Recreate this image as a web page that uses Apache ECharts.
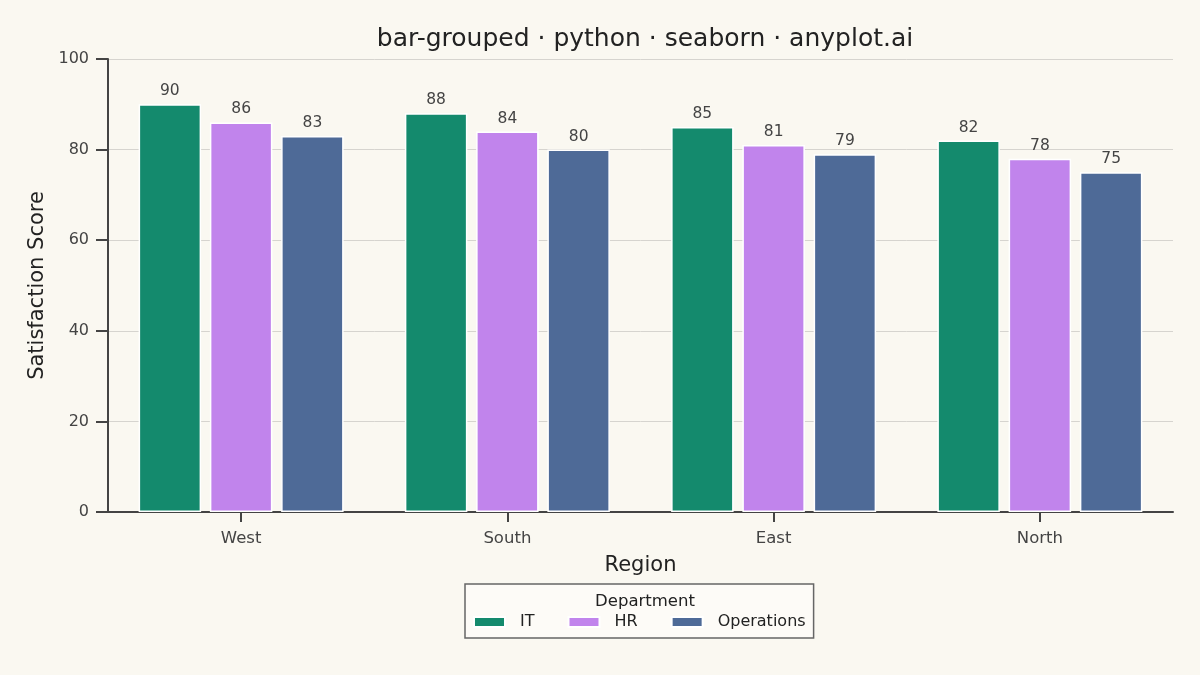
<!DOCTYPE html>
<html>
<head>
<meta charset="utf-8">
<script src="https://cdn.jsdelivr.net/npm/echarts@6/dist/echarts.min.js"></script>
<style>
  html, body { margin: 0; padding: 0; background: #FAF8F1; }
  #chart { width: 1200px; height: 675px; }
</style>
</head>
<body>
<div id="chart"></div>
<script>
// data
var regions = ['West', 'South', 'East', 'North']
var itScores = [90, 88, 85, 82]
var hrScores = [86, 84, 81, 78]
var opsScores = [83, 80, 79, 75]
var yTicks = [0, 20, 40, 60, 80, 100]

var font = 'DejaVu Sans'
var ink = '#444444'

function barSeries(name, data, color) {
  return {
    name: name,
    type: 'bar',
    data: data,
    itemStyle: { color: color, borderColor: '#ffffff', borderWidth: 1.5 },
    label: {
      show: true,
      position: 'top',
      distance: 5,
      color: ink,
      fontFamily: font,
      fontSize: 15.5
    }
  }
}

var myChart = echarts.init(document.getElementById('chart'))

var option = {
  backgroundColor: '#FAF8F1',
  animation: false,
  textStyle: { fontFamily: font },
  title: [
    {
      // centred over the plot area, not the page
      text: 'bar-grouped · python · seaborn · anyplot.ai',
      left: 640,
      textAlign: 'center',
      top: 22,
      textStyle: { fontFamily: font, fontSize: 25, fontWeight: 'normal', color: '#222222' }
    },
    {
      text: 'Department',
      left: 640,
      textAlign: 'center',
      top: 588,
      textStyle: { fontFamily: font, fontSize: 16.5, fontWeight: 'normal', color: '#222222' }
    }
  ],
  legend: {
    data: ['IT', 'HR', 'Operations'],
    left: 465,
    top: 584,
    orient: 'horizontal',
    padding: [30, 8, 8, 8],
    itemWidth: 31,
    itemHeight: 10,
    itemGap: 33,
    icon: 'rect',
    backgroundColor: '#FDFBF7',
    borderColor: '#666666',
    borderWidth: 1.5,
    borderRadius: 0,
    textStyle: { fontFamily: font, fontSize: 16, color: '#222222', padding: [0, 0, 0, 10] }
  },
  grid: { left: 108, right: 27, top: 59, bottom: 163 },
  xAxis: {
    type: 'category',
    data: regions,
    name: 'Region',
    nameLocation: 'middle',
    nameGap: 43,
    nameTextStyle: { fontFamily: font, fontSize: 21, color: '#222222' },
    axisLine: { lineStyle: { color: ink, width: 2 } },
    axisTick: { show: true, alignWithLabel: true, length: 10, lineStyle: { color: ink, width: 2 } },
    axisLabel: { margin: 18, fontFamily: font, fontSize: 16.5, color: ink },
    splitLine: { show: false }
  },
  yAxis: {
    type: 'value',
    min: yTicks[0],
    max: yTicks[yTicks.length - 1],
    interval: 20,
    name: 'Satisfaction Score',
    nameLocation: 'middle',
    nameGap: 60,
    nameTextStyle: { fontFamily: font, fontSize: 21, color: '#222222' },
    axisLine: { show: true, lineStyle: { color: ink, width: 2 } },
    axisTick: { show: true, length: 12, lineStyle: { color: ink, width: 2 } },
    axisLabel: { margin: 19, fontFamily: font, fontSize: 16, color: ink },
    splitLine: { show: true, lineStyle: { color: '#D6D4CF', width: 1 } }
  },
  series: [
    Object.assign(barSeries('IT', itScores, '#148A6D'), { barGap: '14%', barCategoryGap: '23%' }),
    barSeries('HR', hrScores, '#C184EC'),
    barSeries('Operations', opsScores, '#4E6A97')
  ]
}

myChart.setOption(option)
</script>
</body>
</html>
